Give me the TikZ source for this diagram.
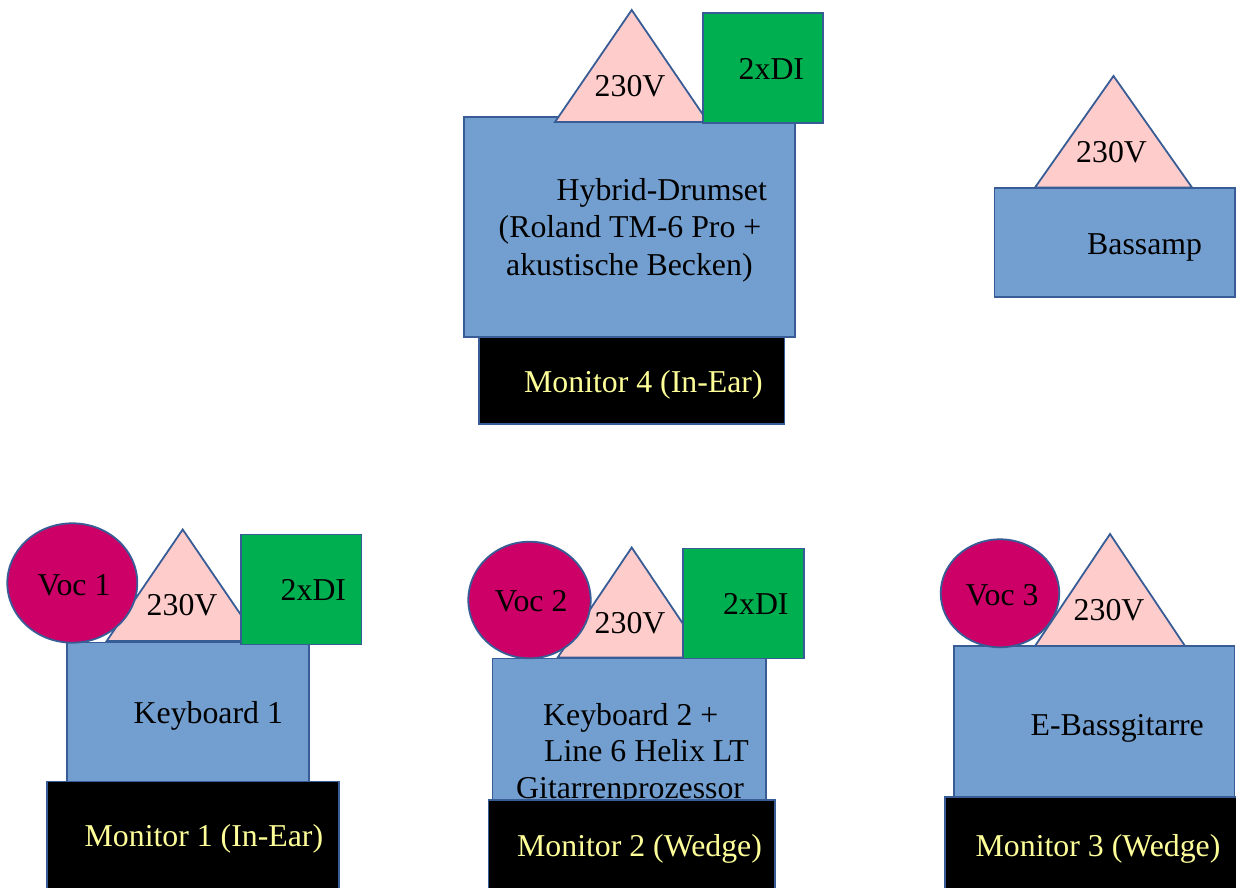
\documentclass[tikz,border=0pt]{standalone}
\usepackage{fontspec}
\setmainfont{Liberation Serif}
\definecolor{boxblue}{RGB}{114,159,207}
\definecolor{edge}{RGB}{56,93,150}
\definecolor{pwr}{RGB}{255,204,204}
\definecolor{digreen}{RGB}{0,176,80}
\definecolor{vocred}{RGB}{204,0,102}
\definecolor{montext}{RGB}{255,255,153}
\tikzset{
  shp/.style={draw=edge, line width=1.8pt, line join=miter},
  bluebox/.style={shp, fill=boxblue},
  monbox/.style={shp, fill=black},
  pwrtri/.style={shp, fill=pwr},
  dibox/.style={shp, fill=digreen},
  vocell/.style={shp, fill=vocred},
  lbl/.style={anchor=base west, inner sep=0pt, font=\fontsize{31.8}{38}\selectfont, text=black},
  monlbl/.style={lbl, text=montext}
}
\begin{document}
\begin{tikzpicture}[x=1pt,y=-1pt]
\useasboundingbox (0,0) rectangle (1236,888);
\clip (0,0) rectangle (1236,888);
\fill[white] (0,0) rectangle (1236,888);

% ---------- Drum group ----------
\path[bluebox] (464,117) rectangle (795,337);
\node[lbl] (drum1) at (556.5,200) {Hybrid-Drumset};
\node[lbl] (drum2) at (498.5,237.5) {(Roland TM-6 Pro +};
\node[lbl] (drum3) at (506,275.5) {akustische Becken)};
\path[pwrtri] (631.7,10) -- (708,122) -- (555,122) -- cycle;
\node[lbl] (drumv) at (594.5,96.5) {230V};
\path[dibox] (703,13) rectangle (823,123);
\node[lbl] (drumdi) at (738.5,80) {2xDI};
\path[monbox] (479,337) rectangle (784.5,424);
\node[monlbl] (mon4) at (524,392.5) {Monitor 4 (In-Ear)};

% ---------- Bassamp ----------
\path[pwrtri] (1113.5,76) -- (1192,187.5) -- (1035,187.5) -- cycle;
\node[lbl] (bassv) at (1076,162.5) {230V};
\path[bluebox] (994.5,188) rectangle (1235,297);
\node[lbl] (bassamp) at (1087,254) {Bassamp};

% ---------- Keyboard 1 ----------
\path[bluebox] (67,642.5) rectangle (309,781.5);
\node[lbl] (kb1) at (133.5,723.5) {Keyboard 1};
\path[pwrtri] (182.7,529.5) -- (258.7,641) -- (106.7,641) -- cycle;
\node[lbl] (kb1v) at (146.5,615) {230V};
\path[vocell] (72.3,583) ellipse [x radius=65, y radius=59.7];
\node[lbl] (voc1) at (37.5,595) {Voc 1};
\path[dibox] (241,534.5) rectangle (361.5,644.5);
\node[lbl] (kb1di) at (280.5,600) {2xDI};
\path[monbox] (47,781.5) rectangle (339,900);
\node[monlbl] (mon1) at (84.5,846.5) {Monitor 1 (In-Ear)};

% ---------- Keyboard 2 ----------
\path[bluebox] (492.5,658.5) rectangle (766,805);
\node[lbl] (kb2a) at (543,725) {Keyboard 2 +};
\node[lbl] (kb2b) at (544,761.5) {Line 6 Helix LT};
\node[lbl] (kb2c) at (516,798.5) {Gitarrenprozessor};
\path[pwrtri] (631.7,547.5) -- (705.7,657.5) -- (557.7,657.5) -- cycle;
\node[lbl] (kb2v) at (594.5,633.3) {230V};
\path[vocell] (529.5,600) ellipse [x radius=61.2, y radius=58.3];
\node[lbl] (voc2) at (494.5,611.7) {Voc 2};
\path[dibox] (683,548.5) rectangle (804,658.5);
\node[lbl] (kb2di) at (723,614) {2xDI};
\path[monbox] (488.5,800) rectangle (775,900);
\node[monlbl] (mon2) at (517,856.7) {Monitor 2 (Wedge)};

% ---------- E-Bass ----------
\path[bluebox] (954,646) rectangle (1234.5,797);
\node[lbl] (ebass) at (1030.5,735) {E-Bassgitarre};
\path[pwrtri] (1110,534) -- (1185,646) -- (1035,646) -- cycle;
\node[lbl] (ebv) at (1073.5,620) {230V};
\path[vocell] (1000,593.3) ellipse [x radius=59.3, y radius=54];
\node[lbl] (voc3) at (965.5,605) {Voc 3};
\path[monbox] (945,797) rectangle (1245,900);
\node[monlbl] (mon3) at (975.5,856.7) {Monitor 3 (Wedge)};
\end{tikzpicture}
\end{document}
